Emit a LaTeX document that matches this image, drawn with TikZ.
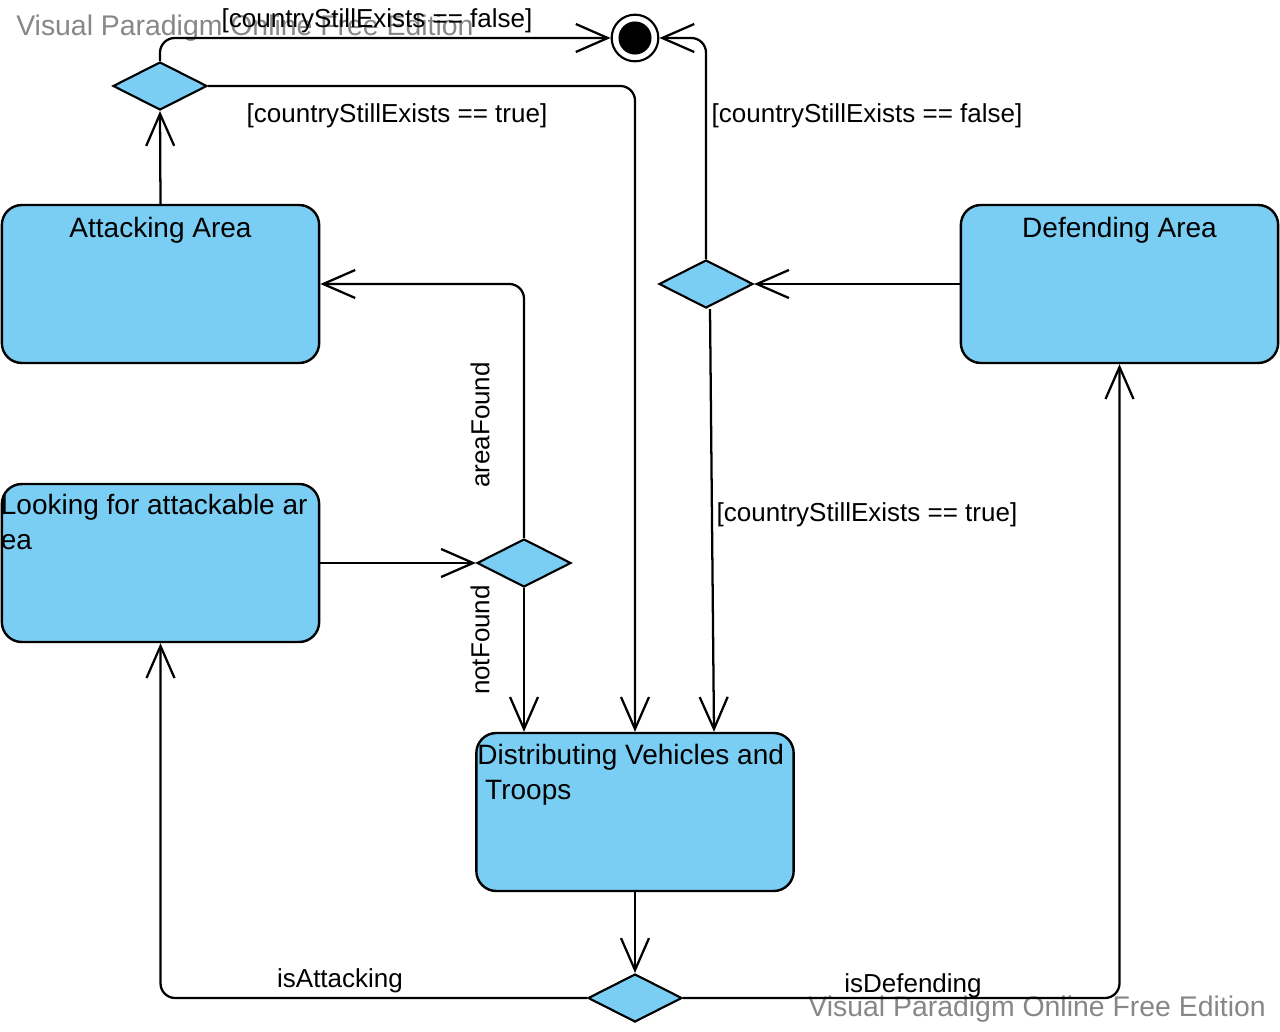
\documentclass[tikz,border=0pt]{standalone}
\usepackage{fontspec}
\setmainfont{Liberation Sans}
\usetikzlibrary{arrows.meta,shapes.geometric}

\definecolor{vpblue}{RGB}{122,206,244}
\definecolor{wmgray}{RGB}{135,135,135}

\tikzset{
    state/.style={draw, line width=1.8pt, fill=vpblue, rounded corners=15pt,
        minimum width=238pt, minimum height=118.5pt, inner sep=0pt},
    decision/.style={draw, diamond, line width=1.6pt, fill=vpblue, aspect=2,
        minimum width=70.5pt, minimum height=36pt, inner sep=0pt},
    boxtxt/.style={inner sep=0pt, font=\fontsize{21}{26}\selectfont},
    guard/.style={inner sep=0pt, font=\fontsize{19.5}{24}\selectfont},
    watermark/.style={inner sep=0pt, text=wmgray, font=\fontsize{21.3}{26}\selectfont},
    arr/.style={line width=1.7pt, -{Straight Barb[length=24pt,width=21pt]}}
}

\begin{document}
\begin{tikzpicture}[x=0.75pt, y=-0.75pt]
    \useasboundingbox (0,0) rectangle (1280,1031);

    % 水印
    \node[watermark, anchor=west] (wmtop) at (16,28) {Visual Paradigm Online Free Edition};
    \node[watermark, anchor=east] (wmbottom) at (1266,1009) {Visual Paradigm Online Free Edition};

    % 终止节点
    \node[draw, circle, line width=1.6pt, fill=white, minimum size=35pt, inner sep=0pt] (final) at (635,38) {};
    \fill (final.center) circle (12.4pt);

    % 状态
    \node[state] (attack) at (160.5,284) {};
    \node[boxtxt, anchor=north] (attacktxt) at (attack.north) [yshift=-10pt] {Attacking Area};

    \node[state] (look) at (160.5,563) {};
    \node[boxtxt, anchor=north west, align=left] (looktxt) at (look.north west) [yshift=-8.5pt] {Looking for attackable ar\\ea};

    \node[state] (defend) at (1119.5,284) {};
    \node[boxtxt, anchor=north] (defendtxt) at (defend.north) [yshift=-10pt] {Defending Area};

    \node[state] (distrib) at (635,812) {};
    \node[boxtxt, anchor=north west, align=left] (distribtxt) at (distrib.north west) [xshift=1.5pt, yshift=-9.3pt] {Distributing Vehicles and\\\hspace*{.28em}Troops};

    % 判断节点
    \node[decision] (d1) at (160,86) {};
    \node[decision] (d2) at (706,284) {};
    \node[decision] (d3) at (524,563) {};
    \node[decision] (d4) at (635,998) {};

    % 连线
    \draw[arr] (attack.north) -- (d1.south);
    \draw[arr, rounded corners=11pt] (d1.north) |- (final.west);
    \draw[arr, rounded corners=11pt] (d1.east) -| (distrib.north);
    \draw[arr] (defend.west) -- (d2.east);
    \draw[arr, rounded corners=11pt] (d2.north) |- (final.east);
    \draw[arr] ([xshift=3pt]d2.south) -- ([xshift=59.25pt]distrib.north);
    \draw[arr] (look.east) -- (d3.west);
    \draw[arr, rounded corners=11pt] (d3.north) |- (attack.east);
    \draw[arr] (d3.south) -- (d3.south |- distrib.north);
    \draw[arr] (distrib.south) -- (d4.north);
    \draw[arr, rounded corners=11pt] (d4.west) -| (look.south);
    \draw[arr, rounded corners=11pt] (d4.east) -| (defend.south);

    % 条件标签
    \node[guard] (gtopfalse) at (377,20.5) {[countryStillExists == false]};
    \node[guard] (gtoptrue) at (397,115.5) {[countryStillExists == true]};
    \node[guard] (grightfalse) at (867,115.5) {[countryStillExists == false]};
    \node[guard] (grighttrue) at (867,514.5) {[countryStillExists == true]};
    \node[guard, rotate=90] (gfound) at (480,425) {areaFound};
    \node[guard, rotate=90] (gnotfound) at (480,640) {notFound};
    \node[guard] (gattack) at (340,980.5) {isAttacking};
    \node[guard] (gdefend) at (913,985.5) {isDefending};
\end{tikzpicture}
\end{document}
